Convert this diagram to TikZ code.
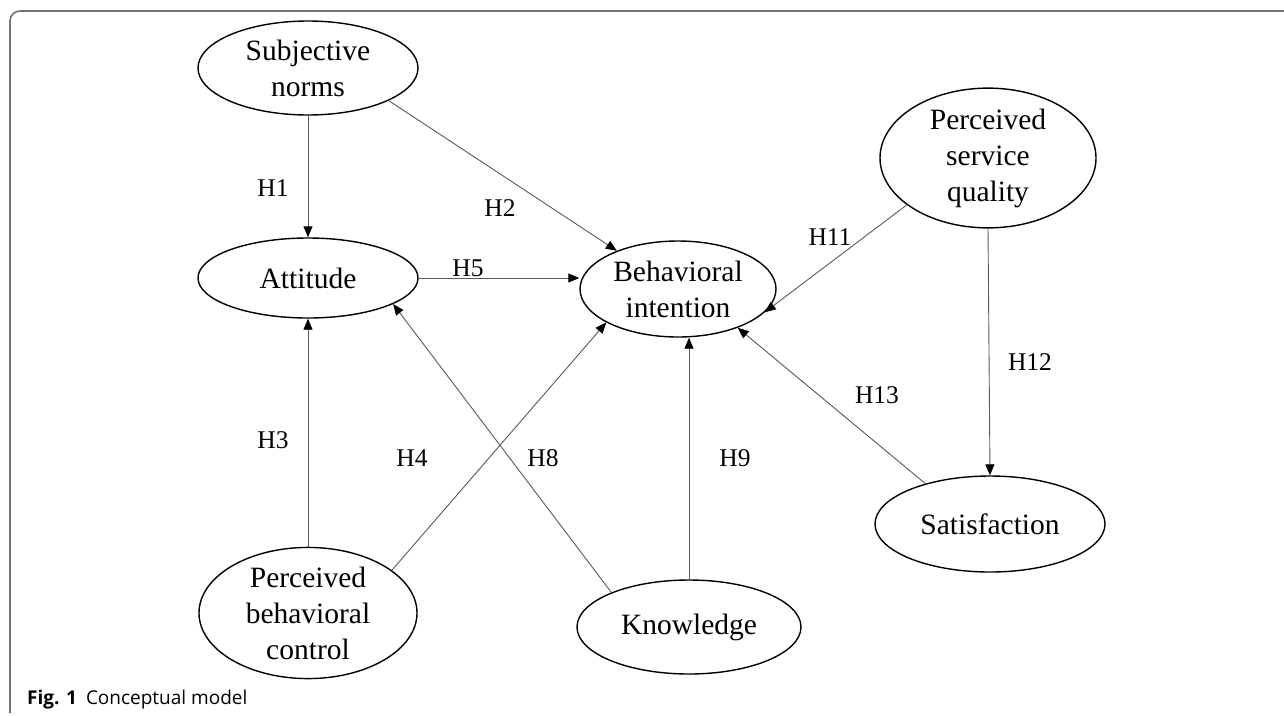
\documentclass[tikz,border=0pt]{standalone}
\usepackage{fontspec}
\setmainfont{Liberation Serif}
\newfontfamily\capfont{Open Sans}
\usetikzlibrary{shapes.geometric,arrows.meta}
\begin{document}
\begin{tikzpicture}[x=1pt,y=-1pt,
  ell/.style={draw=black,line width=1.4pt,ellipse,inner sep=0pt,align=center,font=\fontsize{29.5}{36}\selectfont},
  conn/.style={draw=black!65,line width=0.9pt,-{Triangle[length=11pt,width=9pt,color=black]}},
  hlab/.style={font=\fontsize{25.5}{30}\selectfont,inner sep=0pt},
  frame/.style={draw=black!55,line width=1.6pt}]
\useasboundingbox (0,0) rectangle (1284,715);
\fill[white] (0,0) rectangle (1284,715);
\draw[frame,rounded corners=10pt] (10,713) -- (10,11) -- (1284,11);
% nodes
\node[ell,minimum width=220pt,minimum height=94pt] (sn) at (308,68) {Subjective\\norms};
\node[ell,minimum width=220pt,minimum height=80pt] (att) at (308,278) {Attitude};
\node[ell,minimum width=196pt,minimum height=96pt] (bi) at (678,289) {Behavioral\\intention};
\node[ell,minimum width=216pt,minimum height=124pt] (psq) at (988,158) {Perceived\\service\\quality};
\node[ell,minimum width=230pt,minimum height=96pt] (sat) at (990,524) {Satisfaction};
\node[ell,minimum width=218pt,minimum height=124pt] (pbc) at (308,613) {Perceived\\behavioral\\control};
\node[ell,minimum width=224pt,minimum height=94pt] (kn) at (689,627) {Knowledge};
% connectors
\draw[conn] (sn.south) -- (att.north);
\draw[conn] (sn.338) -- (bi.148);
\draw[conn] (att.east) -- (att.east -| bi.west);
\draw[conn] (pbc.north) -- (att.south);
\draw[conn] (pbc.27) -- (bi.205);
\draw[conn] (kn.156) -- (att.343);
\draw[conn] (kn.north) -- (bi.south -| kn.north);
\draw[conn] (psq.210) -- (bi.345);
\draw[conn] (psq.south) -- (sat.north);
\draw[conn] (sat.148) -- (bi.327);
% labels
\node[hlab] (h1) at (273,188) {H1};
\node[hlab] (h2) at (500,208) {H2};
\node[hlab] (h5) at (468,268) {H5};
\node[hlab] (h3) at (273,440) {H3};
\node[hlab] (h4) at (412,458) {H4};
\node[hlab] (h8) at (543,458) {H8};
\node[hlab] (h9) at (735,458) {H9};
\node[hlab] (h11) at (830,237) {H11};
\node[hlab] (h12) at (1030,362) {H12};
\node[hlab] (h13) at (877,395) {H13};
% caption
\node[anchor=base west,inner sep=0pt,font=\capfont\fontsize{19}{22}\selectfont] (cap) at (27,704) {\textbf{Fig. 1}\hspace{9pt}Conceptual model};
\end{tikzpicture}
\end{document}
